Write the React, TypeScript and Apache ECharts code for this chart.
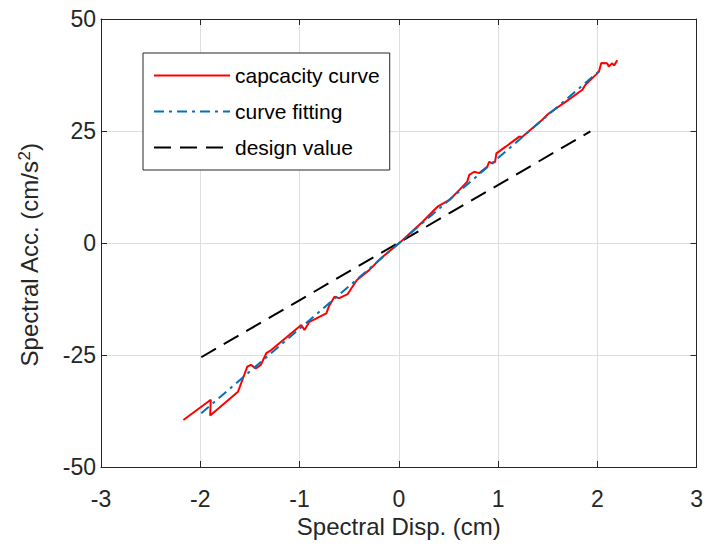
import React, { useEffect, useRef } from "react";
import * as echarts from "echarts";

const capX = [-2.17, -1.894, -1.9, -1.62, -1.526, -1.49, -1.44, -1.39, -1.335, -1.285, -0.983, -0.95, -0.9, -0.73, -0.705, -0.648, -0.6, -0.515, -0.424, -0.296, -0.18, 0.02, 0.24, 0.39, 0.51, 0.608, 0.69, 0.709, 0.76, 0.81, 0.89, 0.91, 0.94, 0.97, 0.983, 1.077, 1.21, 1.245, 1.445, 1.51, 1.68, 1.85, 1.88, 2.015, 2.04, 2.1, 2.115, 2.15, 2.17, 2.2];
const capY = [-39.5, -35.0, -38.5, -33.2, -27.6, -27.2, -28.0, -27.2, -24.6, -23.9, -18.3, -19.4, -17.6, -15.7, -14.2, -12.0, -12.3, -11.4, -8.3, -6.0, -3.4, 0.3, 4.75, 8.1, 9.6, 11.8, 13.7, 15.2, 15.9, 15.6, 17.0, 18.1, 17.8, 18.1, 20.0, 21.5, 23.7, 23.7, 27.5, 28.9, 31.5, 34.2, 35.3, 38.2, 40.2, 40.1, 39.4, 40.1, 39.6, 40.8];
const fitX = [-1.99, 2.01];
const fitY = [-38.0, 38.2];
const designX = [-1.99, 1.93];
const designY = [-25.5, 24.9];
const xTicks = { min: -3, max: 3, interval: 1 };
const yTicks = { min: -50, max: 50, interval: 25 };
const seriesNames = ["capcacity curve", "curve fitting", "design value"];

const FONT = "'Liberation Sans', Arial, sans-serif";
const AX = "#262626";

function zip(xs: number[], ys: number[]) {
  return xs.map((x, i) => [x, ys[i]]);
}

export default function App() {
  const ref = useRef<HTMLDivElement>(null);
  useEffect(() => {
    const chart = echarts.init(ref.current!, null, { renderer: "svg" });
    const baseAxis = {
      axisLine: { show: true, onZero: false, lineStyle: { color: AX, width: 1 } },
      axisTick: { show: true, inside: true, length: 6, lineStyle: { color: AX } },
    };
    chart.setOption({
      animation: false,
      backgroundColor: "#ffffff",
      textStyle: { fontFamily: FONT },
      grid: { left: 101, right: 8, top: 19, bottom: 85, containLabel: false },
      xAxis: [
        {
          type: "value",
          ...xTicks,
          ...baseAxis,
          position: "bottom",
          name: "Spectral Disp. (cm)",
          nameLocation: "middle",
          nameGap: 44,
          nameTextStyle: { fontSize: 24, color: AX, fontFamily: FONT },
          axisLabel: { fontSize: 23, color: AX, margin: 20, fontFamily: FONT },
          splitLine: { show: true, lineStyle: { color: "#dedede", width: 1 } },
        },
        {
          type: "value",
          ...xTicks,
          ...baseAxis,
          position: "top",
          axisLabel: { show: false },
          splitLine: { show: false },
        },
      ],
      yAxis: [
        {
          type: "value",
          ...yTicks,
          ...baseAxis,
          position: "left",
          name: "Spectral Acc. (cm/s{sup|2})",
          nameLocation: "middle",
          nameGap: 58,
          nameTextStyle: {
            fontSize: 24,
            color: AX,
            fontFamily: FONT,
            padding: [0, 24, 0, 0],
            rich: {
              sup: { fontSize: 17, color: AX, fontFamily: FONT, verticalAlign: "top", padding: [0, 0, 10, 0] },
            },
          },
          axisLabel: { fontSize: 23, color: AX, margin: 5, fontFamily: FONT },
          splitLine: { show: true, lineStyle: { color: "#dedede", width: 1 } },
        },
        {
          type: "value",
          ...yTicks,
          ...baseAxis,
          position: "right",
          axisLabel: { show: false },
          splitLine: { show: false },
        },
      ],
      legend: {
        show: true,
        orient: "vertical",
        left: 143,
        top: 53,
        padding: [12, 10, 12, 10],
        itemWidth: 76,
        itemHeight: 20,
        itemGap: 15,
        backgroundColor: "#ffffff",
        borderColor: AX,
        borderWidth: 1,
        itemStyle: { opacity: 0 },
        textStyle: { fontSize: 21, color: "#000000", fontFamily: FONT },
        data: seriesNames,
      },
      series: [
        {
          name: seriesNames[0],
          type: "line",
          data: zip(capX, capY),
          showSymbol: false,
          symbol: "none",
          lineStyle: { color: "#ff0000", width: 2 },
          itemStyle: { color: "#ff0000" },
          z: 3,
        },
        {
          name: seriesNames[1],
          type: "line",
          data: zip(fitX, fitY),
          showSymbol: false,
          symbol: "none",
          lineStyle: { color: "#0072bd", width: 2, type: [10, 5, 3, 5] },
          itemStyle: { color: "#0072bd" },
          z: 4,
        },
        {
          name: seriesNames[2],
          type: "line",
          data: zip(designX, designY),
          showSymbol: false,
          symbol: "none",
          lineStyle: { color: "#000000", width: 2, type: [17, 9] },
          itemStyle: { color: "#000000" },
          z: 2,
        },
      ],
    });
    return () => chart.dispose();
  }, []);
  return <div ref={ref} style={{ width: 706, height: 552, position: "absolute", left: 0, top: 0 }} />;
}
